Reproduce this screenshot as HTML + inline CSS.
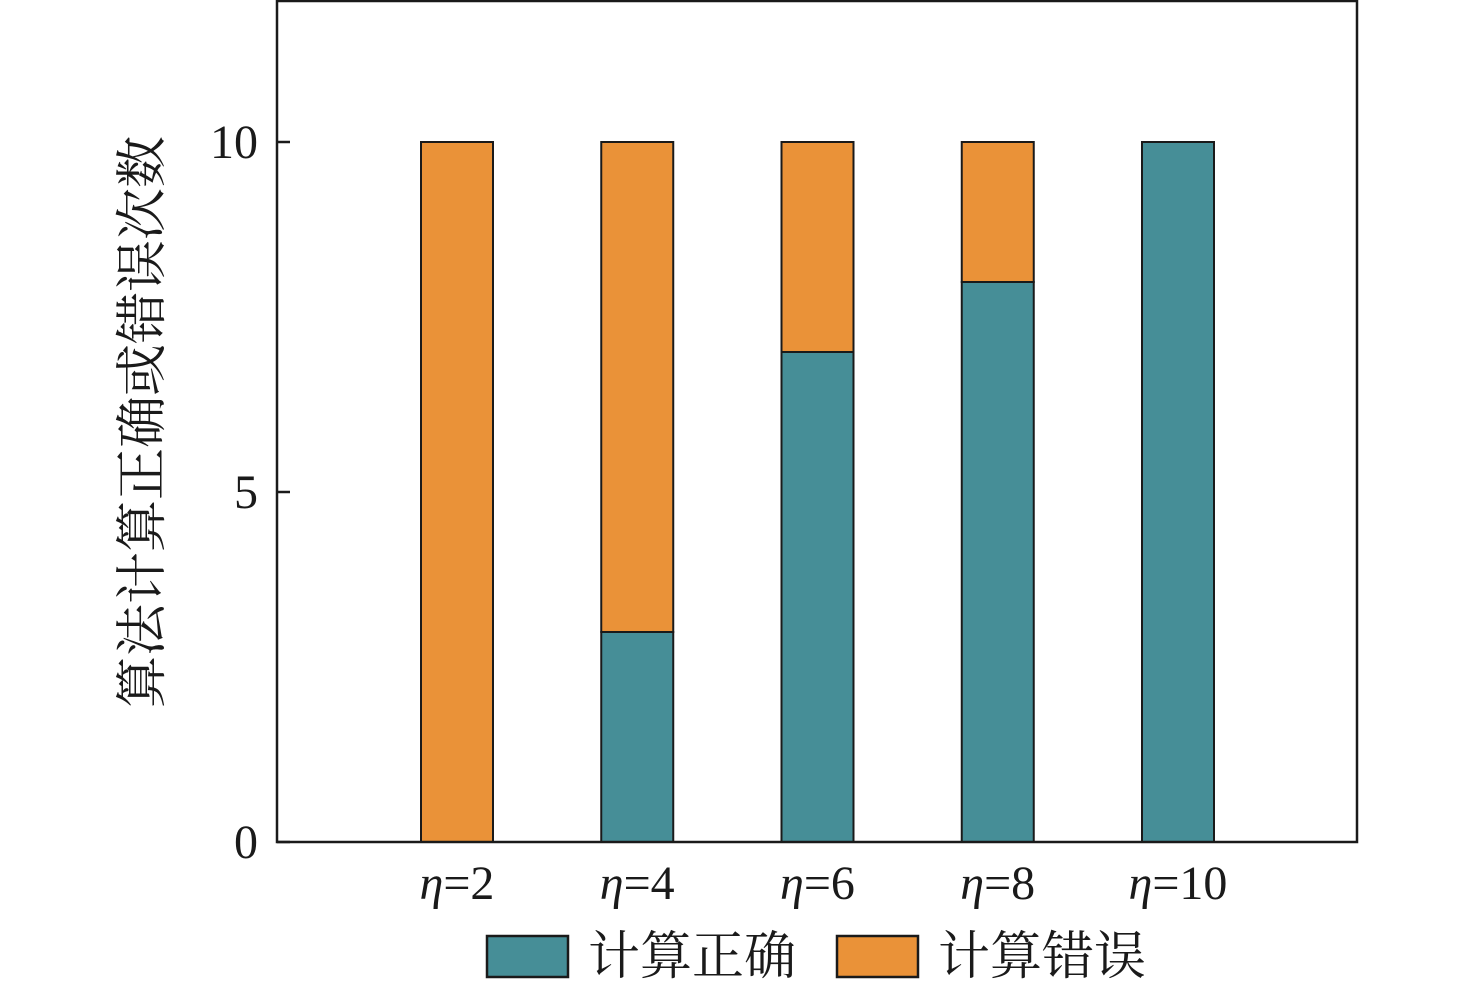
<!DOCTYPE html>
<html><head><meta charset="utf-8"><style>
html,body{margin:0;padding:0;background:#fff;}
svg{display:block;}
text{font-family:"Liberation Serif","Noto Serif CJK SC",serif;fill:#1a1a1a;}
.num{font-family:"Liberation Serif",serif;}
</style></head><body>
<svg id="chart" width="1476" height="987" viewBox="0 0 1476 987" xmlns="http://www.w3.org/2000/svg">
<g id="bars"></g>
<rect x="277" y="1" width="1080" height="841" fill="none" stroke="#1a1a1a" stroke-width="2.5"/>
<g id="axes"></g>
<text transform="translate(160,422) rotate(-90)" text-anchor="middle" font-size="52" style="font-family:'Noto Serif CJK SC',serif">算法计算正确或错误次数</text>
<g>
 <g>
  <rect x="487" y="936" width="81" height="41" fill="#468E97" stroke="#1a1a1a" stroke-width="2.5"/>
  <text x="588" y="974" font-size="52" style="font-family:'Noto Serif CJK SC',serif">计算正确</text>
 </g>
 <g>
  <rect x="837" y="936" width="81" height="41" fill="#EA9238" stroke="#1a1a1a" stroke-width="2.5"/>
  <text x="938" y="974" font-size="52" style="font-family:'Noto Serif CJK SC',serif">计算错误</text>
 </g>
</g>
</svg>
<script>
const categories = ["2","4","6","8","10"];
const correctValues = [0,3,7,8,10];
const errorValues = [10,7,3,2,0];
const yTicks = [0,5,10];

const NS="http://www.w3.org/2000/svg";
const y0=842, pxPerUnit=70;
const yScale=v=>y0-v*pxPerUnit;
const xLeft=457, step=180.25, barW=72;
const xScale=i=>xLeft+i*step;
const bars=document.getElementById('bars');
const axes=document.getElementById('axes');
function mk(tag,attrs,parent){const e=document.createElementNS(NS,tag);for(const k in attrs)e.setAttribute(k,attrs[k]);parent.appendChild(e);return e;}

categories.forEach((c,i)=>{
  const cx=xScale(i);
  const c1=correctValues[i], e1=errorValues[i];
  if(c1>0){
    const r=mk('rect',{x:cx-barW/2,y:yScale(c1),width:barW,height:yScale(0)-yScale(c1),fill:'#468E97',stroke:'#1a1a1a','stroke-width':2},bars);
    
    
  }
  if(e1>0){
    const r=mk('rect',{x:cx-barW/2,y:yScale(c1+e1),width:barW,height:yScale(c1)-yScale(c1+e1),fill:'#EA9238',stroke:'#1a1a1a','stroke-width':2},bars);
    
    
  }
  const t=mk('text',{x:cx,y:899,'font-size':48,'text-anchor':'middle','class':'num'},axes);
  
  
  const ts=document.createElementNS(NS,'tspan');ts.setAttribute('font-style','italic');ts.textContent='η';t.appendChild(ts);
  t.appendChild(document.createTextNode('='+c));
});
yTicks.forEach(v=>{
  const y=yScale(v);
  const l=mk('line',{x1:277,x2:290,y1:y,y2:y,stroke:'#1a1a1a','stroke-width':2.5},axes);
  
  
  const t=mk('text',{x:258,y:y+16,'font-size':48,'text-anchor':'end','class':'num'},axes);
  
  
  t.textContent=v;
});
</script>
</body></html>
